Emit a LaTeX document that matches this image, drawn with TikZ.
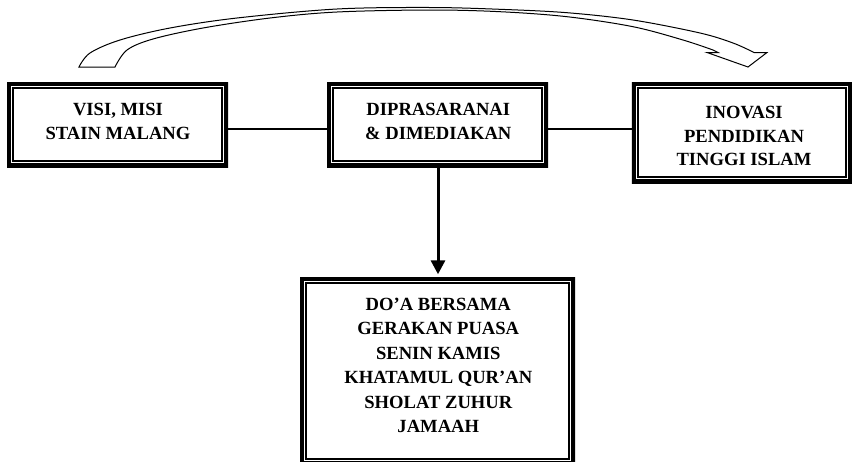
\documentclass[tikz,border=0pt]{standalone}
\usepackage{fontspec}
\setmainfont{Liberation Serif}
\usetikzlibrary{arrows.meta,calc}
\tikzset{
  frame/.style n args={2}{rectangle, inner sep=0pt, minimum width=#1, minimum height=#2,
    path picture={
      \draw[line width=8pt] (path picture bounding box.south west) rectangle (path picture bounding box.north east);
      \draw[line width=1.5pt] ([shift={(6pt,6pt)}]path picture bounding box.south west) rectangle ([shift={(-6pt,-6pt)}]path picture bounding box.north east);
    }},
  txt/.style={align=center, inner sep=0pt, font=\fontsize{18.6}{23.8}\selectfont\bfseries},
  conn/.style={line width=1.2pt},
  darrow/.style={line width=3pt, -{Triangle[width=14pt,length=14pt]}, shorten >=2.5pt}
}
\begin{document}
\begin{tikzpicture}[x=1pt,y=-1pt]
\useasboundingbox (0,0) rectangle (853,461);
% frames
\node[frame={221pt}{85pt}] (v) at (117.5,124.5) {};
\node[frame={221pt}{85pt}] (d) at (437.5,124.5) {};
\node[frame={220pt}{101pt}] (i) at (741.8,132.5) {};
\node[frame={275pt}{188pt}] (k) at (437.5,371) {};
% texts
\node[txt] (vt) at (118,121.4) {VISI, MISI\\STAIN MALANG};
\node[txt] (dt) at (438.3,121.3) {DIPRASARANAI\\\& DIMEDIAKAN};
\node[txt] (it) at (744,136) {INOVASI\\PENDIDIKAN\\TINGGI ISLAM};
\node[txt, font=\fontsize{18.6}{24.4}\selectfont\bfseries] (kt) at (438.3,365.3) {DO’A BERSAMA\\GERAKAN PUASA\\SENIN KAMIS\\KHATAMUL QUR’AN\\SHOLAT ZUHUR\\JAMAAH};
% connectors
\draw[conn] ([yshift=-4.5pt]v.east) -- ([yshift=-4.5pt]d.west);
\draw[conn] ([yshift=-4.5pt]d.east) -- ([yshift=-4.5pt]d.east -| i.west);
\draw[darrow] ([xshift=0.5pt]d.south) -- ([xshift=0.5pt]d.south |- k.north);
% curved block arrow
\draw[line width=1pt, fill=white, line join=miter]
  plot[smooth, tension=0.55] coordinates {(79,67) (90,53) (120,40) (170,28) (237,18) (337,9) (430,7.5) (500,9.3) (567,12.7) (633,20) (700,33) (733,43) (754,52.5)}
  -- (767,52.5) -- (748,67) -- (707,52.5) -- (718,52.5)
  -- plot[smooth, tension=0.55] coordinates {(713,50) (683,40) (633,26.7) (567,16.7) (500,11.7) (430,10) (337,12) (270,18) (203,28) (153,39) (127,50) (115,67)}
  -- cycle;
\end{tikzpicture}
\end{document}
